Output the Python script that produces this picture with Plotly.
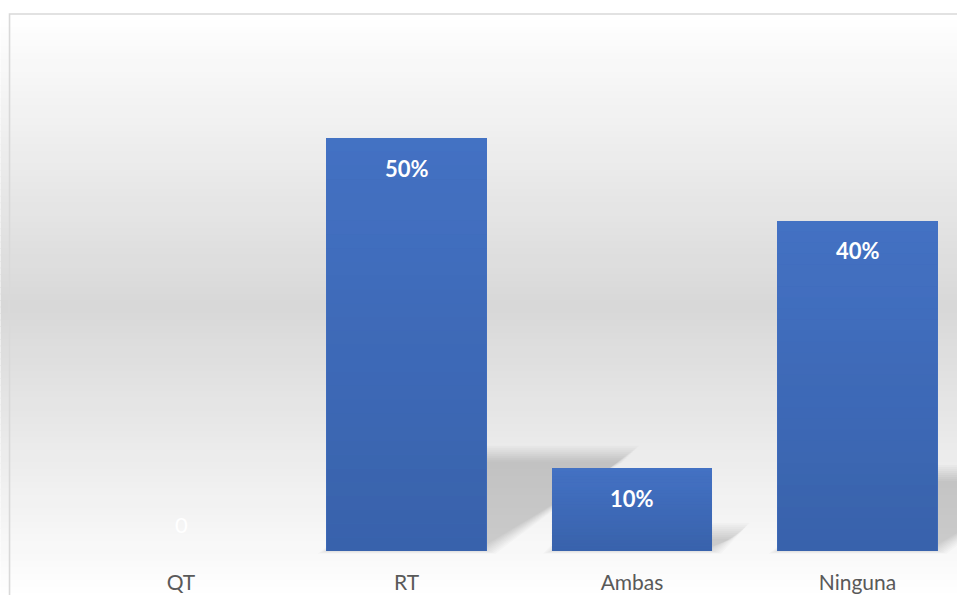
import plotly.graph_objects as go

# Chart data
categories = ["QT", "RT", "Ambas", "Ninguna"]
values = [0, 50, 10, 40]          # percent
value_labels = [f"{v}%" if v else "0" for v in values]

# Styling
BAR_TOP = "#4472C4"
BAR_SHADE = "#2F5597"
TEXT_GREY = "#595959"
FONT = "Lato"

W, H = 957, 595
M_L, M_R, M_T, M_B = 10, 0, 14, 27
plot_w = W - M_L - M_R
plot_h = H - M_T - M_B

# axis ranges (category spacing ~225 px, 1% ~ 8.26 px)
cat_px = 225.5
x0 = -(181 - M_L) / cat_px
x_range = [x0, x0 + plot_w / cat_px]
pct_px = 8.26
y_range = [-(H - M_B - 551) / pct_px, (551 - M_T) / pct_px]

bar_width = 0.71
xs = list(range(len(categories)))

fig = go.Figure()
fig.add_trace(go.Bar(
    x=xs, y=values, width=bar_width,
    marker=dict(color=BAR_TOP, line=dict(width=0)),
    hoverinfo="skip", showlegend=False,
))

shapes = []

# vertical white -> grey -> white background gradient behind the chart
def mix(c1, c2, t):
    return "rgb(%d,%d,%d)" % tuple(round(a + (b - a) * t) for a, b in zip(c1, c2))

top_px, mid_px, bot_px = 14, 307, 600
white, grey = (255, 255, 255), (216, 216, 216)
n_strips = 90
for i in range(n_strips):
    p0 = top_px + (bot_px - top_px) * i / n_strips
    p1 = top_px + (bot_px - top_px) * (i + 1) / n_strips
    pc = (p0 + p1) / 2
    t = (pc - top_px) / (mid_px - top_px) if pc <= mid_px else (bot_px - pc) / (bot_px - mid_px)
    shapes.append(dict(
        type="rect", xref="paper", yref="paper", layer="below",
        x0=-0.01, x1=1.01,
        y0=(H - M_B - p1 - 0.5) / plot_h, y1=(H - M_B - p0 + 0.5) / plot_h,
        fillcolor=mix(white, grey, t), line=dict(width=0),
    ))

# soft perspective floor shadows cast up and to the right of each bar
shadow_k = 0.233          # shadow height as share of bar height
shadow_skew = 0.01277     # horizontal shift (category units) per percent
blur_steps = [-7, -5, -3, -1, 1, 3, 5, 7, 9]
for x, v in zip(xs, values):
    if v <= 0:
        continue
    h = v * shadow_k
    dx = v * shadow_skew
    for e_px in blur_steps:
        ex = e_px / cat_px
        ey = e_px / pct_px
        l, r = x - bar_width / 2 - ex, x + bar_width / 2 + ex
        b, t = 0 - ey * 0.3, h + ey
        path = (f"M {l},{b} L {r},{b} L {r + dx},{t} L {l + dx},{t} Z")
        shapes.append(dict(type="path", xref="x", yref="y", layer="below",
                           path=path, fillcolor="black", opacity=0.02,
                           line=dict(width=0)))

# darker shading toward the foot of each bar
n_bar = 30
for x, v in zip(xs, values):
    if v <= 0:
        continue
    for j in range(n_bar):
        a = 0.55 * (j + 0.5) / n_bar
        y_hi = v - v * j / n_bar
        y_lo = v - v * (j + 1) / n_bar
        shapes.append(dict(type="rect", xref="x", yref="y", layer="above",
                           x0=x - bar_width / 2, x1=x + bar_width / 2,
                           y0=y_lo, y1=y_hi,
                           fillcolor=BAR_SHADE, opacity=a, line=dict(width=0)))

# chart frame
shapes.append(dict(type="rect", xref="paper", yref="paper", layer="above",
                   x0=-0.0005, x1=1.05, y0=-0.2, y1=1.0,
                   line=dict(color="#d9d9d9", width=1.6)))

# value labels
annotations = []
for x, v, lab in zip(xs, values, value_labels):
    annotations.append(dict(
        x=x, y=v, xref="x", yref="y", text=f"<b>{lab}</b>" if v else lab,
        showarrow=False, yanchor="middle", yshift=-30 if v else 27,
        font=dict(family=FONT, size=22, color="white"),
    ))

fig.update_layout(
    width=W, height=H,
    margin=dict(l=M_L, r=M_R, t=M_T, b=M_B, autoexpand=False),
    paper_bgcolor="white", plot_bgcolor="rgba(0,0,0,0)",
    shapes=shapes, annotations=annotations,
    bargap=0, showlegend=False,
    xaxis=dict(range=x_range, tickvals=xs, ticktext=categories,
               showgrid=False, zeroline=False, showline=False, ticks="",
               tickfont=dict(family=FONT, size=21, color=TEXT_GREY),
               automargin=False, fixedrange=True),
    yaxis=dict(range=y_range, showgrid=False, zeroline=False,
               showline=False, showticklabels=False, ticks="",
               automargin=False, fixedrange=True),
)

fig.write_html("out.html", config={"displayModeBar": False})
